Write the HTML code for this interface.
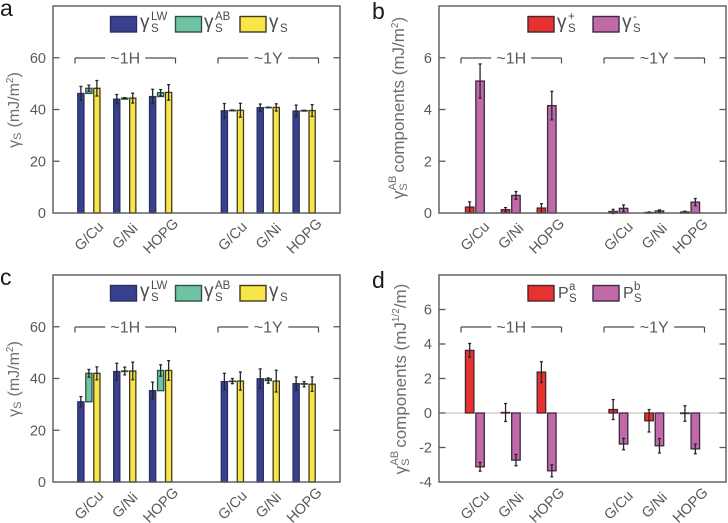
<!DOCTYPE html>
<html lang="en">
<head>
<meta charset="utf-8">
<title>Surface energy components</title>
<style>
html,body{margin:0;padding:0;background:#fff;width:728px;height:523px;overflow:hidden}
svg{display:block;font-family:"Liberation Sans",sans-serif;fill:#58595b;filter:blur(0.3px)}
.letter{font-size:23px;fill:#1a1a1a}
.leg{font-size:19px;fill:#4d4d4f}
.legp{font-size:16px;fill:#4d4d4f}
.legs{font-size:11.5px;fill:#4d4d4f}
.title{font-size:16px;fill:#6d6e70}
</style>
</head>
<body>
<svg id="figure" width="728" height="523" viewBox="0 0 728 523" xmlns="http://www.w3.org/2000/svg">
  <g id="marks"></g>

  <text class="letter" x="0" y="16">a</text>
  <text class="letter" x="372" y="19">b</text>
  <text class="letter" x="0" y="285">c</text>
  <text class="letter" x="372" y="288">d</text>

  <text class="title" transform="translate(19,110) rotate(-90)" text-anchor="middle">γ<tspan font-size="11" dy="2">S</tspan><tspan dy="-2" dx="5">(mJ/m</tspan><tspan font-size="10" dy="-6">2</tspan><tspan dy="6">)</tspan></text>
  <text class="title" transform="translate(404,108) rotate(-90)" text-anchor="middle" style="font-size:17px">γ<tspan font-size="11" dy="3">S</tspan><tspan font-size="11" dx="-7" dy="-11">AB</tspan><tspan dy="8" dx="3">components (mJ/m</tspan><tspan font-size="10" dy="-6">2</tspan><tspan dy="6">)</tspan></text>
  <text class="title" transform="translate(19,379) rotate(-90)" text-anchor="middle">γ<tspan font-size="11" dy="2">S</tspan><tspan dy="-2" dx="5">(mJ/m</tspan><tspan font-size="10" dy="-6">2</tspan><tspan dy="6">)</tspan></text>
  <text class="title" transform="translate(406,379) rotate(-90)" text-anchor="middle" style="font-size:17px">γ<tspan font-size="11" dy="3">S</tspan><tspan font-size="11" dx="-7" dy="-11">AB</tspan><tspan dy="8" dx="3">components (mJ</tspan><tspan font-size="10" dy="-7">1/2</tspan><tspan dy="7">/m)</tspan></text>

  <g>
    <rect x="110.5" y="16.5" width="26" height="15.5" fill="#3a4090" stroke="#2b3060" stroke-width="1.4"/>
    <text class="leg" x="140" y="28">γ</text><text class="legs" x="151" y="32">S</text><text class="legs" x="151" y="20">LW</text>
    <rect x="175.5" y="16.5" width="26" height="15.5" fill="#6fc5a3" stroke="#2f4f45" stroke-width="1.4"/>
    <text class="leg" x="204" y="28">γ</text><text class="legs" x="215" y="32">S</text><text class="legs" x="215" y="20">AB</text>
    <rect x="240" y="16.5" width="26" height="15.5" fill="#f8e648" stroke="#3f3a20" stroke-width="1.4"/>
    <text class="leg" x="269" y="28">γ</text><text class="legs" x="280" y="32">S</text>
  </g>
  <g>
    <rect x="528" y="16.5" width="26" height="15.5" fill="#e8322f" stroke="#4a2630" stroke-width="1.4"/>
    <text class="leg" x="557" y="28">γ</text><text class="legs" x="568" y="32">S</text><text class="legs" x="568" y="20">+</text>
    <rect x="593" y="16.5" width="26" height="15.5" fill="#c06aa8" stroke="#3d2a45" stroke-width="1.4"/>
    <text class="leg" x="622" y="28">γ</text><text class="legs" x="633" y="32">S</text><text class="legs" x="633" y="20">-</text>
  </g>
  <g>
    <rect x="110.5" y="285.5" width="26" height="15.5" fill="#3a4090" stroke="#2b3060" stroke-width="1.4"/>
    <text class="leg" x="140" y="297">γ</text><text class="legs" x="151" y="301">S</text><text class="legs" x="151" y="289">LW</text>
    <rect x="175.5" y="285.5" width="26" height="15.5" fill="#6fc5a3" stroke="#2f4f45" stroke-width="1.4"/>
    <text class="leg" x="204" y="297">γ</text><text class="legs" x="215" y="301">S</text><text class="legs" x="215" y="289">AB</text>
    <rect x="240" y="285.5" width="26" height="15.5" fill="#f8e648" stroke="#3f3a20" stroke-width="1.4"/>
    <text class="leg" x="269" y="297">γ</text><text class="legs" x="280" y="301">S</text>
  </g>
  <g>
    <rect x="528" y="285.5" width="26" height="15.5" fill="#e8322f" stroke="#4a2630" stroke-width="1.4"/>
    <text class="legp" x="558" y="298">P</text><text class="legs" x="569" y="302">S</text><text class="legs" x="569" y="290">a</text>
    <rect x="593" y="285.5" width="26" height="15.5" fill="#c06aa8" stroke="#3d2a45" stroke-width="1.4"/>
    <text class="legp" x="623" y="298">P</text><text class="legs" x="634" y="302">S</text><text class="legs" x="634" y="290">b</text>
  </g>
</svg>
<script>
var categories = ["G/Cu", "G/Ni", "HOPG", "G/Cu", "G/Ni", "HOPG"];
var categorySlots = [1, 2, 3, 5, 6, 7];
var groupLabels = ["~1H", "~1Y"];

var ticksEnergy = [0, 20, 40, 60];
var ticksComponents = [0, 2, 4, 6];
var ticksParams = [-4, -2, 0, 2, 4, 6];

var aLW = [46.2, 44.0, 45.0, 39.5, 40.7, 39.4];
var aLWErr = [2.7, 1.8, 2.8, 2.8, 1.4, 2.3];
var aAB = [2.0, 0.4, 1.5, 0.2, 0.1, 0.2];
var aABErr = [1.2, 0.2, 1.2, 0.1, 0.1, 0.1];
var aS = [48.2, 44.4, 46.6, 39.7, 40.8, 39.6];
var aSErr = [3.0, 1.9, 3.0, 2.7, 1.4, 2.3];

var bPlus = [0.23, 0.13, 0.19, 0.06, 0.02, 0.04];
var bPlusErr = [0.2, 0.08, 0.17, 0.08, 0.02, 0.03];
var bMinus = [5.1, 0.68, 4.15, 0.18, 0.08, 0.42];
var bMinusErr = [0.66, 0.15, 0.55, 0.13, 0.04, 0.14];

var cLW = [31.0, 42.7, 35.3, 38.8, 39.9, 38.0];
var cLWErr = [2.0, 3.2, 3.3, 3.2, 3.8, 2.6];
var cAB = [11.0, 0.2, 7.8, 0.2, -0.7, -0.2];
var cABErr = [1.5, 1.5, 2.2, 1.0, 1.0, 1.0];
var cS = [42.0, 42.9, 43.1, 39.0, 39.0, 37.8];
var cSErr = [2.5, 3.4, 3.8, 3.5, 4.2, 2.8];

var dA = [3.63, 0.03, 2.37, 0.2, -0.45, -0.03];
var dAErr = [0.4, 0.52, 0.6, 0.58, 0.65, 0.45];
var dB = [-3.12, -2.73, -3.35, -1.8, -1.9, -2.08];
var dBErr = [0.25, 0.33, 0.35, 0.33, 0.42, 0.28];

var SVGNS = "http://www.w3.org/2000/svg";
var root = document.getElementById("marks");

function makeX(left, width) {
  return function (slot) { return left + slot / 8 * width; };
}
function makeY(top, height, min, max) {
  return function (v) { return top + (max - v) / (max - min) * height; };
}
function line(parent, x1, y1, x2, y2, color, w, name) {
  var el = document.createElementNS(SVGNS, "line");
  el.setAttribute("x1", x1);
  el.setAttribute("y1", y1);
  el.setAttribute("x2", x2);
  el.setAttribute("y2", y2);
  el.setAttribute("stroke", color);
  el.setAttribute("stroke-width", w);
  
  
  parent.appendChild(el);
  return el;
}
function label(parent, x, y, str, size, anchor, name, rot) {
  var el = document.createElementNS(SVGNS, "text");
  el.textContent = str;
  el.setAttribute("font-size", size);
  el.setAttribute("text-anchor", anchor);
  el.setAttribute("fill", "#58595b");
  if (rot) {
    el.setAttribute("transform", "translate(" + x + "," + y + ") rotate(" + rot + ")");
  } else {
    el.setAttribute("x", x);
    el.setAttribute("y", y);
  }
  
  
  parent.appendChild(el);
  return el;
}
function bar(parent, xc, w, yA, yB, fill, edge, name) {
  var el = document.createElementNS(SVGNS, "rect");
  el.setAttribute("x", xc - w / 2);
  el.setAttribute("y", Math.min(yA, yB));
  el.setAttribute("width", w);
  el.setAttribute("height", Math.abs(yB - yA));
  el.setAttribute("fill", fill);
  el.setAttribute("stroke", edge);
  el.setAttribute("stroke-width", 1.3);
  
  
  parent.appendChild(el);
  return el;
}
function errorBar(parent, xc, yLo, yHi, name) {
  var g = document.createElementNS(SVGNS, "g");
  
  
  parent.appendChild(g);
  line(g, xc, yLo, xc, yHi, "#26262b", 1.3, "error-stem");
  line(g, xc - 1.5, yLo, xc + 1.5, yLo, "#26262b", 1.3, "error-cap-low");
  line(g, xc - 1.5, yHi, xc + 1.5, yHi, "#26262b", 1.3, "error-cap-high");
}

function drawPanel(id, left, top, ticks, min, max, series, zeroLine) {
  var width = 287, height = 207;
  var x = makeX(left, width), y = makeY(top, height, min, max);
  var g = document.createElementNS(SVGNS, "g");
  
  
  root.appendChild(g);

  if (zeroLine) {
    line(g, left, y(0), left + width, y(0), "#b9b9b9", 1, "zero-line");
  }

  series.forEach(function (s) {
    categories.forEach(function (cat, i) {
      var xc = x(categorySlots[i]) + s.offset;
      var base, top2;
      if (s.baseline) {
        base = s.baseline[i];
        top2 = s.baseline[i] + s.values[i];
      } else {
        base = 0;
        top2 = s.values[i];
      }
      bar(g, xc, s.width, y(base), y(top2), s.fill, s.edge, "bar-" + s.key + "-" + (i + 1));
    });
  });
  series.forEach(function (s) {
    categories.forEach(function (cat, i) {
      var xc = x(categorySlots[i]) + s.offset;
      var c = s.baseline ? s.baseline[i] + s.values[i] : s.values[i];
      errorBar(g, xc, y(c - s.errors[i]), y(c + s.errors[i]), "error-" + s.key + "-" + (i + 1));
    });
  });

  var frame = document.createElementNS(SVGNS, "rect");
  frame.setAttribute("x", left);
  frame.setAttribute("y", top);
  frame.setAttribute("width", width);
  frame.setAttribute("height", height);
  frame.setAttribute("fill", "none");
  frame.setAttribute("stroke", "#58595b");
  frame.setAttribute("stroke-width", 1.4);
  
  
  g.appendChild(frame);

  ticks.forEach(function (t) {
    if (t !== min) {
      line(g, left, y(t), left + 6.5, y(t), "#58595b", 1.3, "y-tick-left");
      line(g, left + width - 6.5, y(t), left + width, y(t), "#58595b", 1.3, "y-tick-right");
    }
    label(g, left - 7, y(t) + 5.2, String(t), 14.5, "end", "y-tick-label");
  });

  categories.forEach(function (cat, i) {
    label(g, x(categorySlots[i]) + 3.5, top + height + 26.5, cat, 14.5, "middle", "x-tick-label", -45);
  });

  groupLabels.forEach(function (name, k) {
    var x0 = left + 22 + k * 143, x1 = x0 + 100.5, by = top + 52, mid = (x0 + x1) / 2;
    line(g, x0, by, x0, by + 5.5, "#4d4d4f", 1.2, "group-bracket-left");
    line(g, x1, by, x1, by + 5.5, "#4d4d4f", 1.2, "group-bracket-right");
    line(g, x0, by, mid - 20, by, "#4d4d4f", 1.2, "group-bracket-line");
    line(g, mid + 20, by, x1, by, "#4d4d4f", 1.2, "group-bracket-line");
    label(g, mid, by + 5.5, name, 16, "middle", "group-label");
  });
}

var navy = "#3a4090", navyE = "#2b3060";
var teal = "#6fc5a3", tealE = "#2f4f45";
var yellow = "#f8e648", yellowE = "#3f3a20";
var red = "#e8322f", redE = "#4a2630";
var pink = "#c06aa8", pinkE = "#3d2a45";

drawPanel("a", 53, 6, ticksEnergy, 0, 80, [
  { key: "lw", values: aLW, errors: aLWErr, offset: -8, width: 6.2, fill: navy, edge: navyE },
  { key: "ab", values: aAB, errors: aABErr, baseline: aLW, offset: 0, width: 6.2, fill: teal, edge: tealE },
  { key: "s", values: aS, errors: aSErr, offset: 8, width: 6.2, fill: yellow, edge: yellowE }
]);
drawPanel("b", 439, 6, ticksComponents, 0, 8, [
  { key: "plus", values: bPlus, errors: bPlusErr, offset: -5.2, width: 8.5, fill: red, edge: redE },
  { key: "minus", values: bMinus, errors: bMinusErr, offset: 5.2, width: 8.5, fill: pink, edge: pinkE }
]);
drawPanel("c", 53, 275, ticksEnergy, 0, 80, [
  { key: "lw", values: cLW, errors: cLWErr, offset: -8, width: 6.2, fill: navy, edge: navyE },
  { key: "ab", values: cAB, errors: cABErr, baseline: cLW, offset: 0, width: 6.2, fill: teal, edge: tealE },
  { key: "s", values: cS, errors: cSErr, offset: 8, width: 6.2, fill: yellow, edge: yellowE }
]);
drawPanel("d", 439, 275, ticksParams, -4, 8, [
  { key: "pa", values: dA, errors: dAErr, offset: -5.2, width: 8.5, fill: red, edge: redE },
  { key: "pb", values: dB, errors: dBErr, offset: 5.2, width: 8.5, fill: pink, edge: pinkE }
], true);
</script>
</body>
</html>
